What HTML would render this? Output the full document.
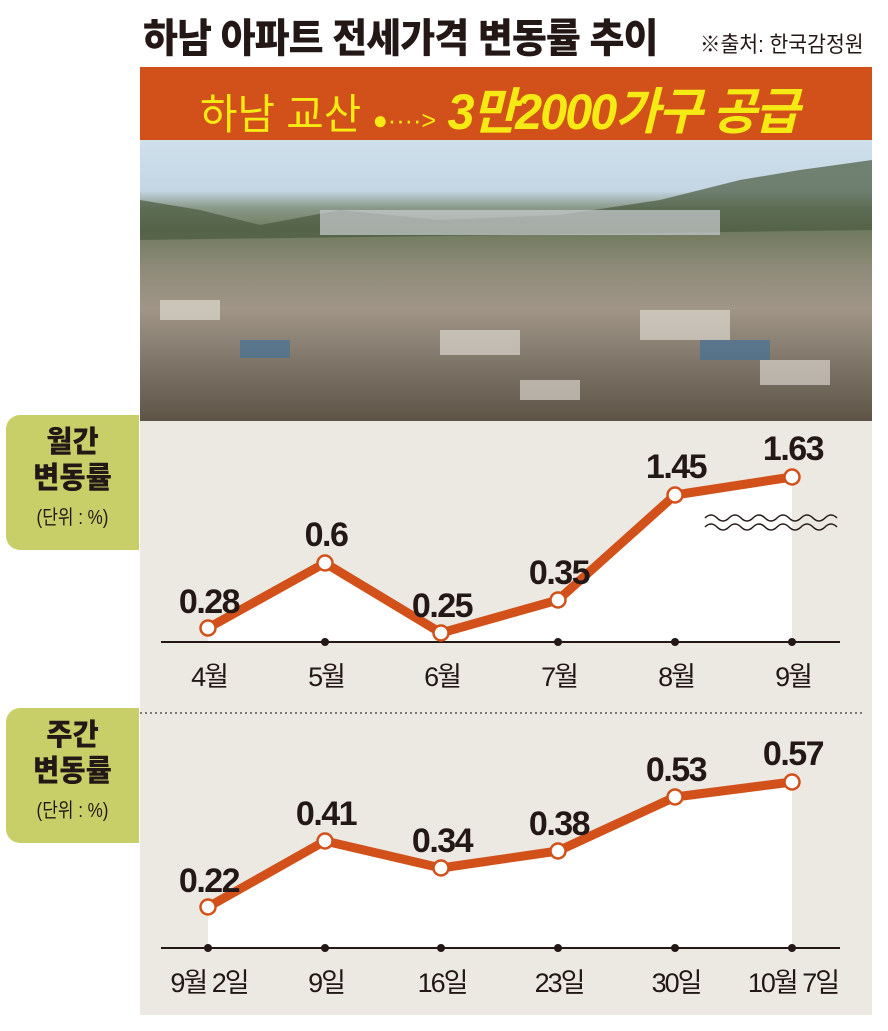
<!DOCTYPE html>
<html><head><meta charset="utf-8"><style>
body{margin:0;width:888px;height:1031px;background:#fff;position:relative;overflow:hidden;font-family:"Liberation Sans","Noto Sans CJK KR",sans-serif}
.a{position:absolute}
.title{left:143px;top:6px;font-size:40px;font-weight:900;color:#231815;letter-spacing:-1px;transform:scaleX(0.95);transform-origin:left;white-space:nowrap}
.src{left:700px;top:27px;font-size:22px;color:#231815;transform:scaleX(0.93);transform-origin:left;white-space:nowrap}
.banner{left:140px;top:67px;width:732px;height:73px;background:#d2511b}
.photo{left:140px;top:140px;width:732px;height:281px;background:
linear-gradient(180deg,#cfe0ec 0%,#c4d6e4 18%,#8a9a8a 24%,#6f7a5e 32%,#8d8a78 45%,#a09586 60%,#7d7468 80%,#5e5446 100%)}
.panel{left:140px;top:421px;width:732px;height:594px;background:#ece8e2}
.gb{left:6px;width:133px;height:135px;background:#c9cf68;border-radius:14px 0 0 14px;text-align:center;color:#231815}
.gb b{display:block;font-size:30px;line-height:36px;font-weight:900;transform:scaleX(0.95)}
.gb span{font-size:20px;display:block;margin-top:4px;transform:scaleX(0.85)}
</style></head><body>
<div class="a title">하남 아파트 전세가격 변동률 추이</div>
<div class="a src">※출처: 한국감정원</div>
<div class="a banner"></div>
<div class="a" style="left:200px;top:72px;font-size:42px;color:#f6ea14;transform:scaleX(0.97);transform-origin:left;white-space:nowrap">하남 교산 <span style="font-size:26px">●····&gt;</span> <i style="font-size:50px;font-weight:bold;letter-spacing:-2px">3만2000가구 공급</i></div>
<div class="a photo"></div>
<svg class="a" style="left:140px;top:140px" width="732" height="281">
<path d="M0 60 L60 70 L120 85 L200 70 L300 80 L420 75 L520 60 L600 40 L660 30 L732 20 L732 90 L0 100Z" fill="#4a5a3e" opacity=".7"/>
<rect x="180" y="70" width="400" height="25" fill="#c9cdd2" opacity=".7"/>
<g fill="#e8e4dc" opacity=".6"><rect x="20" y="160" width="60" height="20"/><rect x="300" y="190" width="80" height="25"/><rect x="500" y="170" width="90" height="30"/><rect x="620" y="220" width="70" height="25"/><rect x="380" y="240" width="60" height="20"/></g>
<g fill="#3a6f9c" opacity=".6"><rect x="560" y="200" width="70" height="20"/><rect x="100" y="200" width="50" height="18"/></g>
</svg>
<div class="a panel"></div>
<div class="a gb" style="top:415px"><b style="margin-top:10px">월간</b><b>변동률</b><span>(단위 : %)</span></div>
<div class="a gb" style="top:708px"><b style="margin-top:10px">주간</b><b>변동률</b><span>(단위 : %)</span></div>
<svg class="a" style="left:0;top:0" width="888" height="1031" font-family="Liberation Sans, Noto Sans CJK KR, sans-serif">
<line x1="140" y1="713" x2="862" y2="713" stroke="#555" stroke-width="1.5" stroke-dasharray="2 3"/>
<polygon points="208,628 325,563 441,633 558,600 675,495 792,477 792,642 208,642" fill="#fff"/>
<polygon points="208,907 325,841 441,868 558,851 675,797 792,782 792,948 208,948" fill="#fff"/>
<g stroke="#231815" stroke-width="2"><line x1="161" y1="642" x2="840" y2="642"/><line x1="161" y1="948" x2="840" y2="948"/></g>
<g fill="#231815">
<circle cx="325" cy="642" r="4"/><circle cx="558" cy="642" r="4"/><circle cx="675" cy="642" r="4"/><circle cx="792" cy="642" r="4"/>
<circle cx="208" cy="948" r="4"/><circle cx="325" cy="948" r="4"/><circle cx="441" cy="948" r="4"/><circle cx="558" cy="948" r="4"/><circle cx="675" cy="948" r="4"/><circle cx="792" cy="948" r="4"/>
</g>
<g fill="none" stroke="#231815" stroke-width="1.5">
<path d="M705 518 q6 -6 12 0 t12 0 t12 0 t12 0 t12 0 t12 0 t12 0 t12 0 t12 0 t12 0 t12 0"/>
<path d="M705 527 q6 -6 12 0 t12 0 t12 0 t12 0 t12 0 t12 0 t12 0 t12 0 t12 0 t12 0 t12 0"/>
</g>
<g fill="none" stroke="#d2511b" stroke-width="9" stroke-linejoin="round">
<polyline points="208,628 325,563 441,633 558,600 675,495 792,477"/>
<polyline points="208,907 325,841 441,868 558,851 675,797 792,782"/>
</g>
<g fill="#fff" stroke="#d2511b" stroke-width="2.5">
<circle cx="208" cy="628" r="7.5"/><circle cx="325" cy="563" r="7.5"/><circle cx="441" cy="633" r="7.5"/><circle cx="558" cy="600" r="7.5"/><circle cx="675" cy="495" r="7.5"/><circle cx="792" cy="477" r="7.5"/>
<circle cx="208" cy="907" r="7.5"/><circle cx="325" cy="841" r="7.5"/><circle cx="441" cy="868" r="7.5"/><circle cx="558" cy="851" r="7.5"/><circle cx="675" cy="797" r="7.5"/><circle cx="792" cy="782" r="7.5"/>
</g>
<g font-size="34" font-weight="bold" fill="#231815" text-anchor="middle" letter-spacing="-1.5">
<text x="209" y="613">0.28</text><text x="326" y="546">0.6</text><text x="442" y="617">0.25</text><text x="559" y="584">0.35</text><text x="676" y="478">1.45</text><text x="793" y="460">1.63</text>
<text x="209" y="892">0.22</text><text x="326" y="825">0.41</text><text x="442" y="852">0.34</text><text x="559" y="835">0.38</text><text x="676" y="781">0.53</text><text x="793" y="765">0.57</text>
</g>
<g font-size="27" fill="#231815" text-anchor="middle" letter-spacing="-2">
<text x="209" y="686">4월</text><text x="326" y="686">5월</text><text x="442" y="686">6월</text><text x="559" y="686">7월</text><text x="676" y="686">8월</text><text x="793" y="686">9월</text>
<text x="209" y="992">9월 2일</text><text x="326" y="992">9일</text><text x="442" y="992">16일</text><text x="559" y="992">23일</text><text x="676" y="992">30일</text><text x="793" y="992">10월 7일</text>
</g>
</svg>
</body></html>
